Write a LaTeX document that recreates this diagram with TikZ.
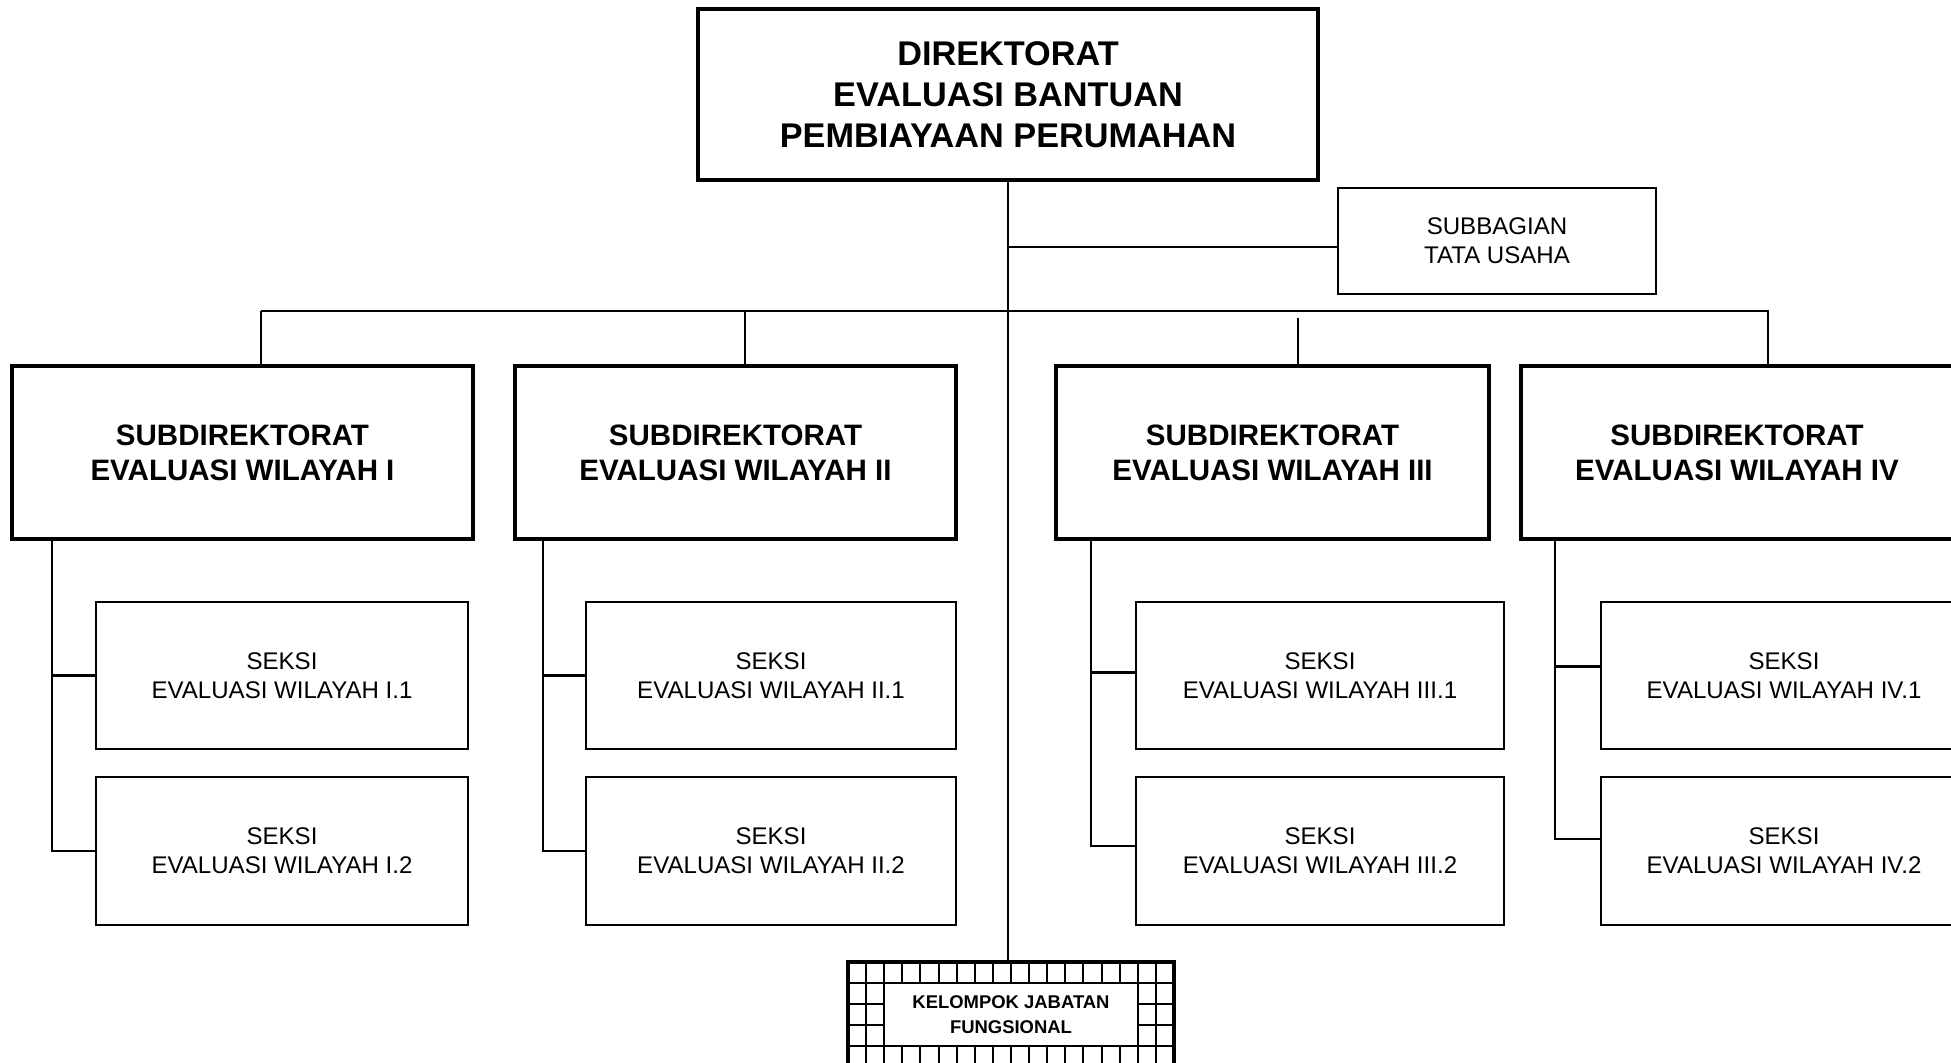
\documentclass[tikz,border=0pt]{standalone}
\usepackage{fontspec}
\setmainfont{Liberation Sans}
\usepackage{tikz}
\usetikzlibrary{positioning}

\tikzset{
  dirbox/.style={draw, line width=2.3pt, align=center, inner sep=0pt,
    minimum width=12.4cm, minimum height=3.42cm,
    font=\fontsize{19.5}{23.3}\selectfont\bfseries},
  subdirbox/.style={draw, line width=2.1pt, align=center, inner sep=0pt,
    minimum height=3.46cm, font=\fontsize{16.8}{19.9}\selectfont\bfseries},
  seksibox/.style={draw, line width=1.2pt, align=center, inner sep=0pt,
    minimum width=7.38cm, minimum height=2.95cm,
    font=\fontsize{13.7}{16.4}\selectfont},
  tubox/.style={draw, line width=1.2pt, align=center, inner sep=0pt,
    minimum width=6.36cm, minimum height=2.12cm,
    font=\fontsize{13.7}{16.4}\selectfont},
  kelframe/.style={draw, line width=1.8pt, inner sep=0pt,
    minimum width=6.52cm, minimum height=2.4cm},
  kjfbox/.style={draw, fill=white, line width=1.2pt, align=center, inner sep=0pt,
    minimum width=5.08cm, minimum height=1.26cm,
    font=\fontsize{10.5}{14.2}\selectfont\bfseries},
  link/.style={line width=1.2pt},
  gridline/.style={line width=1.1pt},
}

\begin{document}
\begin{tikzpicture}[x=0.02cm, y=-0.02cm]
\useasboundingbox (0,0) rectangle (1951,1062);

% direktorat and tata usaha
\node[dirbox] (dir) at (1008,94.5)
    {DIREKTORAT\\EVALUASI BANTUAN\\PEMBIAYAAN PERUMAHAN};
\node[tubox] (tu) at (1497,241) {SUBBAGIAN\\TATA USAHA};

% subdirektorat
\node[subdirbox, minimum width=9.22cm] (sd1) at (242.5,452.5)
    {SUBDIREKTORAT\\EVALUASI WILAYAH I};
\node[subdirbox, minimum width=8.82cm] (sd2) at (735.5,452.5)
    {SUBDIREKTORAT\\EVALUASI WILAYAH II};
\node[subdirbox, minimum width=8.66cm] (sd3) at (1272.5,452.5)
    {SUBDIREKTORAT\\EVALUASI WILAYAH III};
\node[subdirbox, minimum width=8.64cm] (sd4) at (1737,452.5)
    {SUBDIREKTORAT\\EVALUASI WILAYAH IV};

% seksi
\node[seksibox, minimum width=7.44cm] (s11) at (282,675.5) {SEKSI\\EVALUASI WILAYAH I.1};
\node[seksibox, minimum width=7.44cm] (s12) at (282,851) {SEKSI\\EVALUASI WILAYAH I.2};
\node[seksibox, minimum width=7.4cm] (s21) at (771,675.5) {SEKSI\\EVALUASI WILAYAH II.1};
\node[seksibox, minimum width=7.4cm] (s22) at (771,851) {SEKSI\\EVALUASI WILAYAH II.2};
\node[seksibox, minimum width=7.36cm] (s31) at (1320,675.5) {SEKSI\\EVALUASI WILAYAH III.1};
\node[seksibox, minimum width=7.36cm] (s32) at (1320,851) {SEKSI\\EVALUASI WILAYAH III.2};
\node[seksibox, minimum width=7.32cm] (s41) at (1784,675.5) {SEKSI\\EVALUASI WILAYAH IV.1};
\node[seksibox, minimum width=7.32cm] (s42) at (1784,851) {SEKSI\\EVALUASI WILAYAH IV.2};

% kelompok jabatan fungsional (grid frame)
\foreach \i in {0,...,18}
    \draw[gridline] (848+\i*18.11,962) -- (848+\i*18.11,1080);
\foreach \j in {1,...,5}
    \draw[gridline] (848,962+\j*21) -- (1174,962+\j*21);
\node[kelframe] (kel) at (1011,1022) {};
\node[kjfbox] (kjf) at (1011,1014.5) {KELOMPOK JABATAN\\FUNGSIONAL};

% bus and drops
\coordinate (busw) at (261,311);
\coordinate (buse) at (1769,311);
\coordinate (d1) at (261,311);
\coordinate (d2) at (745,311);
\coordinate (d3) at (1298,318);
\coordinate (d4) at (1768,311);
\draw[link] (dir.south) -- (dir.south |- kel.north);
\draw[link] ([yshift=-0.12cm]tu.west) -- ([yshift=-0.12cm]tu.west -| dir.south);
\draw[link] (busw) -- (buse);
\foreach \k in {1,2,3,4}
    \draw[link] (d\k) -- (d\k |- sd\k.north);

% spines to seksi
\coordinate (sp1) at (52,0);
\coordinate (sp2) at (543,0);
\coordinate (sp3) at (1091,0);
\coordinate (sp4) at (1555,0);
\foreach \k/\ua/\ub in {1/0/0, 2/0/0, 3/3/5, 4/9/12}{
    \coordinate (ba\k) at ([yshift=\ua*0.02cm]s\k1.west);
    \coordinate (bb\k) at ([yshift=\ub*0.02cm]s\k2.west);
    \draw[link] (sp\k |- sd\k.south) |- (bb\k);
    \draw[link] (sp\k |- ba\k) -- (ba\k);
}
\end{tikzpicture}
\end{document}
